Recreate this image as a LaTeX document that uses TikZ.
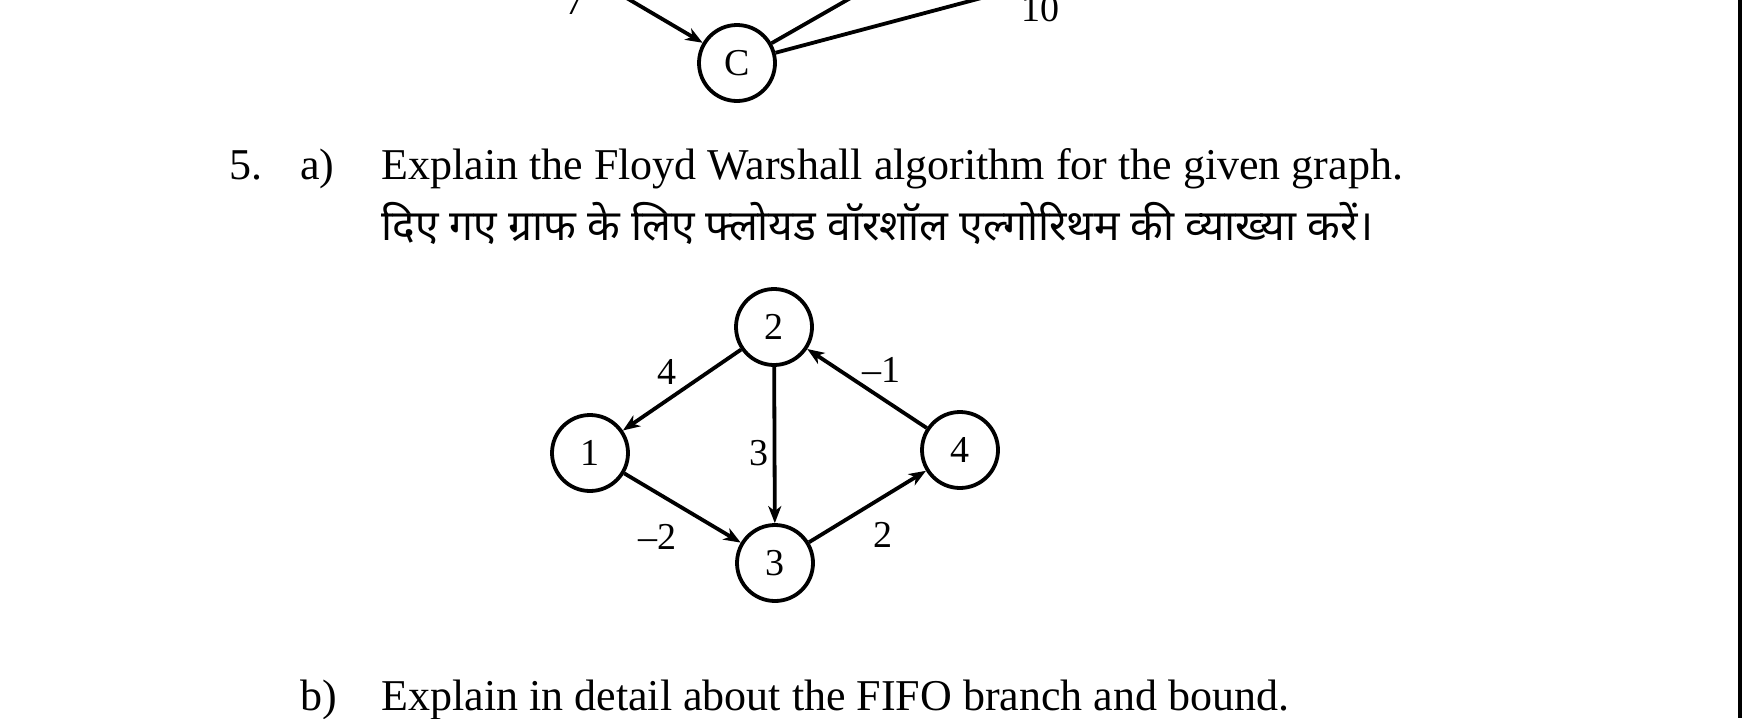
\documentclass[tikz,border=0pt]{standalone}
\usepackage{fontspec}
\setmainfont{Liberation Serif}
\newfontfamily\hindifont[Script=Devanagari]{Noto Sans}
\usetikzlibrary{arrows.meta}

\begin{document}
\begin{tikzpicture}
    [x=0.5pt,y=-0.5pt,
      vertex/.style={circle,draw,line width=1.9pt,minimum size=38pt,inner sep=0pt,font=\fontsize{19}{19}\selectfont},
      edge/.style={line width=1.9pt,-{Stealth[length=8.5pt,width=6.5pt,inset=2.5pt]}},
      plain/.style={line width=1.9pt},
      weight/.style={font=\fontsize{19}{19}\selectfont,inner sep=2pt},
      question/.style={anchor=base west,inner sep=0pt,font=\fontsize{22}{22}\selectfont}
    ]

    \clip (0,0) rectangle (1754,718);
    \fill[white] (0,0) rectangle (1754,718);

    % remains of the previous graph
    \node [vertex] (c) at (737,63) {C};
    \coordinate (cin) at (596,-20);
    \coordinate (cup) at (882,-20);
    \coordinate (cright) at (1049,-20);
    \draw [edge] (cin) -- (c);
    \draw [plain] (c) -- (cup);
    \draw [plain] (c) -- (cright);
    \node [weight] (w10) at (1040,9) {10};
    \node [weight] (w7) at (575,2) {7};

    % question 5
    \node [question] (num) at (229,179) {5.};
    \node [question] (qa) at (300,179) {a)};
    \node [question] (texta) at (381,179) {Explain the Floyd Warshall algorithm for the given graph.};
    \node [question,font=\hindifont\fontsize{21.3}{21.3}\selectfont] (hindi) at (381,240) {दिए गए ग्राफ के लिए फ्लोयड वॉरशॉल एल्गोरिथम की व्याख्या करें।};

    \node [vertex] (n1) at (590,453) {1};
    \node [vertex] (n2) at (774,327) {2};
    \node [vertex] (n3) at (775,563) {3};
    \node [vertex] (n4) at (960,450) {4};

    \draw [edge] (n2) -- node [weight,above left] {4} (n1);
    \draw [edge] (n2) -- node [weight,left,yshift=-4pt] {3} (n3);
    \draw [edge] (n4) -- node [weight,above right,xshift=-5pt] {–1} (n2);
    \draw [edge] (n1) -- node [weight,below left,yshift=-5pt] {–2} (n3);
    \draw [edge] (n3) -- node [weight,below right,yshift=-5pt] {2} (n4);

    \node [question] (qb) at (300,710) {b)};
    \node [question] (textb) at (381,710) {Explain in detail about the FIFO branch and bound.};

    % page edge
    \draw [line width=2pt] (1740,0) -- (1740,718);
\end{tikzpicture}
\end{document}
